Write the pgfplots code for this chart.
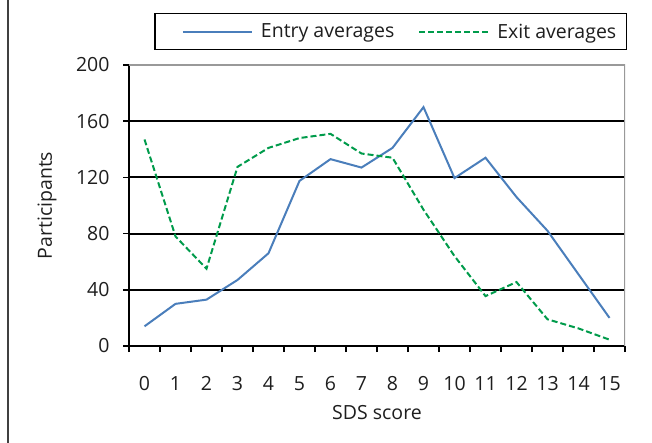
\documentclass[border=0pt]{standalone}
\usepackage{fontspec}
\setmainfont{Open Sans}
\usepackage{pgfplots}
\pgfplotsset{compat=1.18}
\definecolor{entryblue}{RGB}{74,126,187}
\definecolor{exitgreen}{RGB}{0,155,75}
\definecolor{txt}{RGB}{30,30,30}
\newcommand\chartfont{\fontsize{19.5bp}{23bp}\selectfont}
\begin{document}
\begin{tikzpicture}
\path[use as bounding box] (0bp,0bp) rectangle (652bp,443bp);
\draw[line width=1.5bp, black!75] (8bp,0bp) -- (8bp,443bp);
\begin{axis}[
  at={(129bp,97bp)}, anchor=south west,
  scale only axis, width=496bp, height=281bp,
  xmin=-0.5, xmax=15.5, ymin=0, ymax=200,
  axis x line=bottom, axis y line=left,
  axis line style={-, line width=2bp, black},
  xtick={0,...,15},
  minor xtick={-0.5,0.5,...,15.5},
  ytick={0,40,...,200},
  tick align=outside,
  major x tick style={draw=none},
  minor x tick style={black, line width=1.5bp},
  major y tick style={black, line width=1.5bp},
  major tick length=6bp, minor tick length=6bp,
  ymajorgrids, grid style={black, line width=2bp},
  /pgf/number format/assume math mode=true,
  tick label style={font=\chartfont, text=txt},
  xticklabel style={anchor=base, yshift=-38bp},
  yticklabel style={anchor=east, xshift=-10bp},
  label style={font=\chartfont, text=txt},
  xlabel={SDS score},
  ylabel={Participants},
  xlabel style={at={(axis description cs:0.5,-0.2384)}, anchor=center},
  ylabel style={at={(axis description cs:-0.1653,0.5)}, anchor=center, rotate=0},
  legend columns=2,
  legend image code/.code={\path[draw=none, fill=none] (0bp,-2bp) rectangle (87bp,2bp); \draw[#1] (18bp,0bp) -- (87bp,0bp);},
  legend style={at={(1.00403,1.18505)}, anchor=north east, draw=black, line width=1.5bp,
    font=\chartfont, text=txt, inner xsep=10bp, inner ysep=10bp,
    nodes={inner sep=0bp},
    /tikz/every odd column/.append style={column sep=8bp},
    /tikz/every even column/.append style={column sep=7bp}},
]
\draw[line width=2bp, black!40] (rel axis cs:0,1) -- (rel axis cs:1,1) -- (rel axis cs:1,0);
\addplot[entryblue, line width=2bp] coordinates {
 (0,14) (1,30) (2,33) (3,47) (4,66) (5,117.5) (6,133) (7,127) (8,141) (9,170) (10,119.5) (11,134) (12,106) (13,82) (14,51) (15,20)
};
\addlegendentry{Entry averages}
\addplot[exitgreen, line width=2bp, dash pattern=on 6bp off 3bp] coordinates {
 (0,147) (1,78) (2,55) (3,127.5) (4,141) (5,148) (6,151) (7,137) (8,134) (9,97) (10,64) (11,35.5) (12,45.5) (13,19) (14,12.5) (15,4.5)
};
\addlegendentry{Exit averages}
\end{axis}
\end{tikzpicture}
\end{document}
